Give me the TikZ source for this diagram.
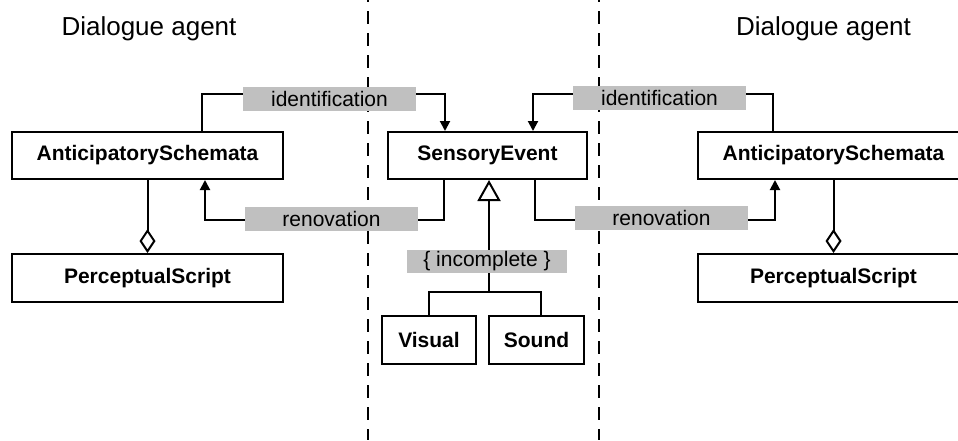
\documentclass[tikz,border=0pt]{standalone}
\usepackage{fontspec}
\setmainfont{Liberation Sans}
\usetikzlibrary{arrows.meta}
\definecolor{lblgray}{RGB}{192,192,192}
\begin{document}
\begin{tikzpicture}[x=1pt,y=-1pt,
  cls/.style={draw,line width=2pt,minimum height=47pt,inner sep=0pt,
    font=\fontsize{21}{25}\selectfont\bfseries},
  lbl/.style={fill=lblgray,inner sep=0pt,minimum height=24pt,
    font=\fontsize{21}{25}\selectfont},
  title/.style={font=\fontsize{26}{31}\selectfont},
  conn/.style={line width=2pt},
  arr/.style={conn,-{Triangle[width=10pt,length=10pt]}},
  agg/.style={conn,-{Diamond[open,width=16pt,length=24pt]}},
  gen/.style={conn,-{Triangle[open,width=23pt,length=21pt]}},
  sep/.style={line width=2pt,dash pattern=on 13pt off 9pt,dash phase=11pt}]
\useasboundingbox (0,0) rectangle (958,440);

% separators
\coordinate (s1t) at (368,0); \coordinate (s1b) at (368,440);
\coordinate (s2t) at (599,0); \coordinate (s2b) at (599,440);
\draw[sep] (s1t) -- (s1b);
\draw[sep] (s2t) -- (s2b);

% titles
\node[title] (t1) at (149,29) {Dialogue agent};
\node[title] (t2) at (823.5,29) {Dialogue agent};

% classes
\node[cls,minimum width=271pt] (AS1) at (147.5,155.5) {AnticipatorySchemata};
\node[cls,minimum width=271pt,minimum height=48pt] (PS1) at (147.5,278) {PerceptualScript};
\node[cls,minimum width=199pt] (SE) at (487.5,155.5) {SensoryEvent};
\node[cls,minimum width=271pt] (AS2) at (833.5,155.5) {AnticipatorySchemata};
\node[cls,minimum width=271pt,minimum height=48pt] (PS2) at (833.5,278) {PerceptualScript};
\node[cls,minimum width=94pt,minimum height=48pt] (V) at (429,340) {Visual};
\node[cls,minimum width=95pt,minimum height=48pt] (S) at (536.5,340) {Sound};

% aggregation
\draw[agg] (AS1.south) -- (PS1.north);
\draw[agg] (AS2.south) -- (PS2.north);

% identification / renovation (left)
\coordinate (ri1) at (329,94);
\coordinate (rr1) at (331,220);
\draw[arr] ([xshift=54.5pt]AS1.north) |- (ri1) -| ([xshift=-42.5pt]SE.north);
\draw[arr] ([xshift=-43.5pt]SE.south) |- (rr1) -| ([xshift=57.5pt]AS1.south);
\node[lbl,minimum width=173pt] (id1) at (329.5,99) {identification};
\node[lbl,minimum width=173pt] (rn1) at (331.5,219) {renovation};

% identification / renovation (right)
\coordinate (ri2) at (659,94);
\coordinate (rr2) at (661,220);
\draw[arr] ([xshift=-60.5pt]AS2.north) |- (ri2) -| ([xshift=45.5pt]SE.north);
\draw[arr] ([xshift=47pt]SE.south) |- (rr2) -| ([xshift=-58.5pt]AS2.south);
\node[lbl,minimum width=173pt] (id2) at (659.5,98) {identification};
\node[lbl,minimum width=173pt] (rn2) at (661.5,218) {renovation};

% generalization
\coordinate (j) at (489,292);
\draw[conn] (V.north) |- (j) -| ([xshift=4.5pt]S.north);
\draw[gen] (j) -- (SE.south -| j);
\node[lbl,minimum width=160pt,minimum height=23pt] (inc) at (487,261.5) {\{ incomplete \}};
\end{tikzpicture}
\end{document}
